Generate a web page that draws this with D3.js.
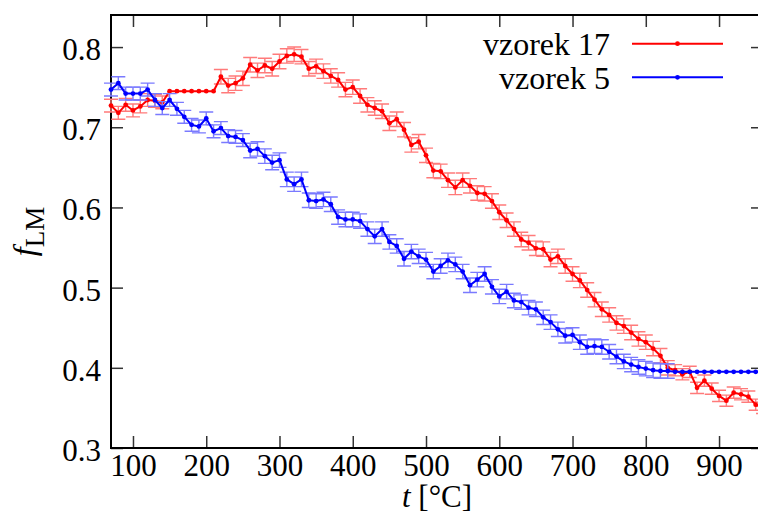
<!DOCTYPE html>
<html>
<head>
<meta charset="utf-8">
<script src="https://cdn.jsdelivr.net/npm/d3@7"></script>
<style>
  html, body { margin: 0; padding: 0; background: #fff; }
  svg { display: block; }
  svg text { font-family: "Liberation Serif", "Times New Roman", Times, serif !important; }
</style>
</head>
<body>
<svg id="chart" width="758" height="513"></svg>
<script>
// Temperature steps (°C)
const temps = [
  70, 80, 90, 100, 110, 120, 130, 140, 150, 160,
  170, 180, 190, 200, 210, 220, 230, 240, 250, 260,
  270, 280, 290, 300, 310, 320, 330, 340, 350, 360,
  370, 380, 390, 400, 410, 420, 430, 440, 450, 460,
  470, 480, 490, 500, 510, 520, 530, 540, 550, 560,
  570, 580, 590, 600, 610, 620, 630, 640, 650, 660,
  670, 680, 690, 700, 710, 720, 730, 740, 750, 760,
  770, 780, 790, 800, 810, 820, 830, 840, 850, 860,
  870, 880, 890, 900, 910, 920, 930, 940, 950, 960
];

// f_LM, sample 17
const sample17 = [
  0.727, 0.718, 0.728, 0.721, 0.726, 0.734, 0.733, 0.731, 0.745, 0.745,
  0.745, 0.745, 0.745, 0.745, 0.745, 0.763, 0.752, 0.755, 0.761, 0.778,
  0.771, 0.777, 0.773, 0.782, 0.789, 0.791, 0.788, 0.773, 0.776, 0.770,
  0.764, 0.759, 0.747, 0.750, 0.739, 0.728, 0.724, 0.720, 0.705, 0.710,
  0.697, 0.678, 0.682, 0.665, 0.646, 0.645, 0.634, 0.625, 0.634, 0.627,
  0.618, 0.617, 0.608, 0.594, 0.584, 0.573, 0.560, 0.556, 0.549, 0.548,
  0.535, 0.539, 0.527, 0.517, 0.509, 0.497, 0.485, 0.473, 0.466, 0.456,
  0.452, 0.444, 0.436, 0.432, 0.424, 0.415, 0.400, 0.397, 0.392, 0.395,
  0.375, 0.384, 0.374, 0.365, 0.359, 0.369, 0.367, 0.364, 0.354, 0.350
];
const sample17Err = [
  0.008, 0.008, 0.008, 0.008, 0.008, 0.008, 0.008, 0.008, 0, 0,
  0, 0, 0, 0, 0, 0.009, 0.009, 0.009, 0.009, 0.009,
  0.009, 0.009, 0.009, 0.009, 0.009, 0.009, 0.009, 0.009, 0.009, 0.009,
  0.009, 0.009, 0.009, 0.009, 0.009, 0.009, 0.009, 0.009, 0.009, 0.009,
  0.009, 0.009, 0.009, 0.009, 0.009, 0.009, 0.009, 0.009, 0.009, 0.009,
  0.009, 0.009, 0.009, 0.009, 0.009, 0.009, 0.009, 0.009, 0.009, 0.009,
  0.009, 0.009, 0.009, 0.009, 0.009, 0.009, 0.009, 0.009, 0.009, 0.009,
  0.009, 0.009, 0.009, 0.009, 0.009, 0.009, 0.009, 0.007, 0.007, 0.007,
  0.007, 0.007, 0.007, 0.007, 0.007, 0.007, 0.007, 0.007, 0.007, 0.007
];

// f_LM, sample 5
const sample5 = [
  0.747, 0.755, 0.742, 0.742, 0.742, 0.747, 0.734, 0.724, 0.734, 0.723,
  0.713, 0.703, 0.701, 0.711, 0.695, 0.699, 0.689, 0.688, 0.684, 0.671,
  0.673, 0.664, 0.656, 0.659, 0.635, 0.629, 0.635, 0.609, 0.608, 0.610,
  0.604, 0.588, 0.585, 0.585, 0.583, 0.573, 0.564, 0.573, 0.557, 0.552,
  0.536, 0.545, 0.539, 0.535, 0.520, 0.527, 0.534, 0.529, 0.520, 0.503,
  0.510, 0.517, 0.501, 0.489, 0.495, 0.484, 0.482, 0.475, 0.473, 0.463,
  0.457, 0.448, 0.440, 0.441, 0.432, 0.426, 0.427, 0.426, 0.420, 0.414,
  0.408, 0.404, 0.401, 0.399, 0.397, 0.396, 0.396, 0.395, 0.395, 0.395,
  0.395, 0.395, 0.395, 0.395, 0.395, 0.395, 0.395, 0.395, 0.395, 0.395
];
const sample5Err = [
  0.008, 0.008, 0.008, 0.008, 0.008, 0.008, 0.008, 0.008, 0.008, 0.008,
  0.008, 0.008, 0.008, 0.008, 0.008, 0.008, 0.008, 0.008, 0.008, 0.009,
  0.009, 0.009, 0.009, 0.009, 0.009, 0.009, 0.009, 0.009, 0.009, 0.009,
  0.009, 0.009, 0.009, 0.009, 0.009, 0.009, 0.009, 0.009, 0.009, 0.009,
  0.009, 0.009, 0.009, 0.009, 0.009, 0.009, 0.009, 0.009, 0.009, 0.009,
  0.009, 0.009, 0.009, 0.009, 0.009, 0.009, 0.009, 0.009, 0.009, 0.009,
  0.009, 0.009, 0.009, 0.009, 0.009, 0.009, 0.009, 0.009, 0.009, 0.009,
  0.009, 0.009, 0.009, 0.009, 0.009, 0.009, 0.009, 0, 0, 0,
  0, 0, 0, 0, 0, 0, 0, 0, 0, 0
];

const seriesNames = ["vzorek 17", "vzorek 5"];
const xTicks = [100, 200, 300, 400, 500, 600, 700, 800, 900];
const yTicks = [0.3, 0.4, 0.5, 0.6, 0.7, 0.8];

const series = [
  { name: seriesNames[0], values: sample17, err: sample17Err, line: "#ff0000", bar: "#ff7a7a" },
  { name: seriesNames[1], values: sample5,  err: sample5Err,  line: "#0000ff", bar: "#7a7aff" }
];

const svg = d3.select("#chart");
const plotL = 111, plotR = 763, plotT = 15, plotB = 448;

const x = d3.scaleLinear().domain([70, 960]).range([plotL, plotR]);
const y = d3.scaleLinear().domain([0.3, 0.84]).range([plotB, plotT]);

const tickStyle = g => {
  g.attr("font-family", null).attr("font-size", null);
  g.select(".domain").remove();
  g.selectAll(".tick line").attr("stroke", "#333").attr("stroke-width", 1.5);
  g.selectAll(".tick text")
    .attr("fill", "#000")
    .style("font-size", "31px");
};

// Axes with inward ticks on all four sides
svg.append("g").attr("transform", `translate(0,${plotB})`)
  .call(d3.axisBottom(x).tickValues(xTicks).tickSizeInner(-12).tickSizeOuter(0).tickPadding(6).tickFormat(d3.format("d")))
  .call(tickStyle);
svg.append("g").attr("transform", `translate(0,${plotT})`)
  .call(d3.axisTop(x).tickValues(xTicks).tickSizeInner(-12).tickSizeOuter(0).tickFormat(""))
  .call(tickStyle);
svg.append("g").attr("transform", `translate(${plotL},0)`)
  .call(d3.axisLeft(y).tickValues(yTicks).tickSizeInner(-12).tickSizeOuter(0).tickPadding(10).tickFormat(d3.format(".1f")))
  .call(tickStyle)
  .selectAll(".tick text").attr("dy", "0.4em");
svg.append("g").attr("transform", `translate(${plotR},0)`)
  .call(d3.axisRight(y).tickValues(yTicks).tickSizeInner(-12).tickSizeOuter(0).tickFormat(""))
  .call(tickStyle);

// Plot frame
svg.append("rect")
  .attr("x", plotL).attr("y", plotT)
  .attr("width", plotR - plotL).attr("height", plotB - plotT)
  .attr("fill", "none").attr("stroke", "#000").attr("stroke-width", 2);

const line = d3.line().x(d => x(d.t)).y(d => y(d.v));
const cap = 7;

series.forEach(s => {
  const pts = temps.map((t, i) => ({ t, v: s.values[i], e: s.err[i] }));
  const withErr = pts.filter(d => d.e > 0);

  // Error bars
  const eb = svg.append("g").attr("stroke", s.bar).attr("stroke-width", 1.4).attr("fill", "none");
  eb.selectAll("path").data(withErr).join("path")
    .attr("d", d => {
      const cx = x(d.t), y1 = y(d.v - d.e), y2 = y(d.v + d.e);
      return `M${cx},${y1}V${y2}M${cx - cap},${y1}H${cx + cap}M${cx - cap},${y2}H${cx + cap}`;
    });

  // Line with point markers
  svg.append("path").datum(pts)
    .attr("d", line).attr("fill", "none")
    .attr("stroke", s.line).attr("stroke-width", 2).attr("stroke-linejoin", "round");
  svg.append("g").selectAll("circle").data(pts).join("circle")
    .attr("cx", d => x(d.t)).attr("cy", d => y(d.v)).attr("r", 2.4)
    .attr("fill", s.line);
});

// Legend
const legend = svg.append("g");
series.forEach((s, i) => {
  const ly = 43.7 + i * 33.6;
  legend.append("text")
    .attr("x", 610).attr("y", ly).attr("dy", "0.36em")
    .attr("text-anchor", "end")
    .style("font-size", "32px")
    .text(s.name);
  legend.append("line")
    .attr("x1", 632).attr("x2", 723).attr("y1", ly).attr("y2", ly)
    .attr("stroke", s.line).attr("stroke-width", 2);
  legend.append("circle")
    .attr("cx", 677.5).attr("cy", ly).attr("r", 2.4).attr("fill", s.line);
});

// Axis titles
const xt = svg.append("text")
  .attr("x", (plotL + plotR) / 2).attr("y", 507)
  .attr("text-anchor", "middle")
  .style("font-size", "31px");
xt.append("tspan").style("font-style", "italic").text("t");
xt.append("tspan").text(" [°C]");

const yt = svg.append("text")
  .attr("transform", `translate(35,${(plotT + plotB) / 2}) rotate(-90)`)
  .attr("text-anchor", "middle")
  .style("font-size", "32px");
yt.append("tspan").style("font-style", "italic").text("f");
yt.append("tspan").attr("dy", 9).style("font-size", "27px").text("LM");
</script>
</body>
</html>
